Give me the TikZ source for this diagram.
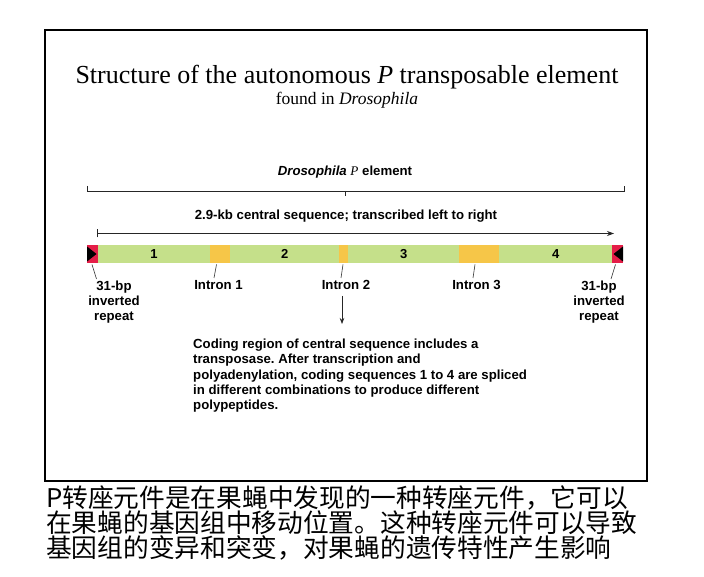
\documentclass[tikz,border=0pt]{standalone}
\usepackage{fontspec}
\setmainfont{Liberation Serif}
\setsansfont{Liberation Sans}
\newfontfamily\cjk{Noto Sans CJK SC}
\usetikzlibrary{arrows.meta}
\definecolor{exongreen}{RGB}{197,224,138}
\definecolor{introny}{RGB}{246,198,72}
\definecolor{irred}{RGB}{228,30,72}
\frenchspacing
\begin{document}
\begin{tikzpicture}[x=1pt,y=-1pt,
  lbl/.style={font=\sffamily\bfseries\fontsize{13.2}{15.2}\selectfont, inner sep=0pt},
  num/.style={font=\sffamily\bfseries\fontsize{13}{15}\selectfont, inner sep=0pt},
  seg/.style={minimum height=18pt, inner sep=0pt, anchor=north west, draw=none},
  exon/.style={seg, fill=exongreen},
  intronbox/.style={seg, fill=introny},
  irbox/.style={seg, fill=irred},
  leader/.style={draw=black!80, line width=0.6pt},
  thinline/.style={draw=black!85, line width=0.7pt}]
\useasboundingbox (0,0) rectangle (704,577);
\fill[white] (0,0) rectangle (704,577);
% frame
\draw[line width=2pt] (45,30) rectangle (646.5,481);
% title
\node[inner sep=0pt, font=\fontsize{26}{30}\selectfont] (title) at (347,77) {Structure of the autonomous \textit{P} transposable element};
\node[inner sep=0pt, font=\fontsize{17.5}{20}\selectfont] (sub) at (347,100) {found in \textit{Drosophila}};
% P element bracket
\node[lbl] (plabel) at (345,172) {\textit{Drosophila} {\normalfont\textit{P}} element};
\coordinate (bl) at (87,191);
\coordinate (br) at (624,191);
\coordinate (bm) at (345,191);
\draw[thinline] ([yshift=5]bl) -- (bl) -- (br) -- ([yshift=5]br);
\draw[thinline] (bm) -- ([yshift=-5]bm);
% central sequence arrow
\node[lbl] (clabel) at (346,216.5) {2.9-kb central sequence; transcribed left to right};
\coordinate (cl) at (97,233.5);
\coordinate (cr) at (614,233.5);
\draw[thinline] ([yshift=-4]cl) -- ([yshift=4]cl);
\draw[thinline, -{Stealth[length=7pt,width=5pt]}] (cl) -- (cr);
% bar
\node[irbox, minimum width=10.5pt] (irL) at (87,245) {};
\node[exon, minimum width=112.5pt] (e1) at (97.5,245) {};
\node[intronbox, minimum width=20pt] (i1) at (210,245) {};
\node[exon, minimum width=109pt] (e2) at (230,245) {};
\node[intronbox, minimum width=9pt] (i2) at (339,245) {};
\node[exon, minimum width=111pt] (e3) at (348,245) {};
\node[intronbox, minimum width=40pt] (i3) at (459,245) {};
\node[exon, minimum width=113pt] (e4) at (499,245) {};
\node[irbox, minimum width=11pt] (irR) at (612,245) {};
\fill[black] (87,246.5) -- (96.5,254) -- (87,261.5) -- cycle;
\fill[black] (623,246.5) -- (613.5,254) -- (623,261.5) -- cycle;
\node[num] at (e1.center) {1};
\node[num] at (e2.center) {2};
\node[num] at (e3.center) {3};
\node[num] at (e4.center) {4};
% labels below
\node[lbl] (in1) at (218.5,285) {Intron 1};
\node[lbl] (in2) at (346,285) {Intron 2};
\node[lbl] (in3) at (476.5,285) {Intron 3};
\draw[leader] (216.5,264.5) -- (214,278);
\draw[leader] (343,264.5) -- (341,278);
\draw[leader] (475,264.5) -- (473,278);
\node[lbl, align=center] (irl) at (114,302) {31-bp\\inverted\\repeat};
\node[lbl, align=center] (irr) at (599,302) {31-bp\\inverted\\repeat};
\draw[leader] (92,264.5) -- (96.5,279);
\draw[leader] (615.5,264.5) -- (611,279);
% down arrow
\coordinate (da) at (342,296);
\coordinate (db) at (342,324);
\draw[thinline, -{Stealth[length=6pt,width=4.5pt]}] (da) -- (db);
\node[lbl, anchor=north west, align=left] (para) at (193,339) {Coding region of central sequence includes a\\transposase. After transcription and\\polyadenylation, coding sequences 1 to 4 are spliced\\in different combinations to produce different\\polypeptides.};
% Chinese caption
\node[anchor=north west, align=left, inner sep=0pt, font=\cjk\fontsize{25.7}{25}\selectfont] (cn) at (46,486) {P转座元件是在果蝇中发现的一种转座元件，它可以\\在果蝇的基因组中移动位置。这种转座元件可以导致\\基因组的变异和突变，对果蝇的遗传特性产生影响};
\end{tikzpicture}
\end{document}
